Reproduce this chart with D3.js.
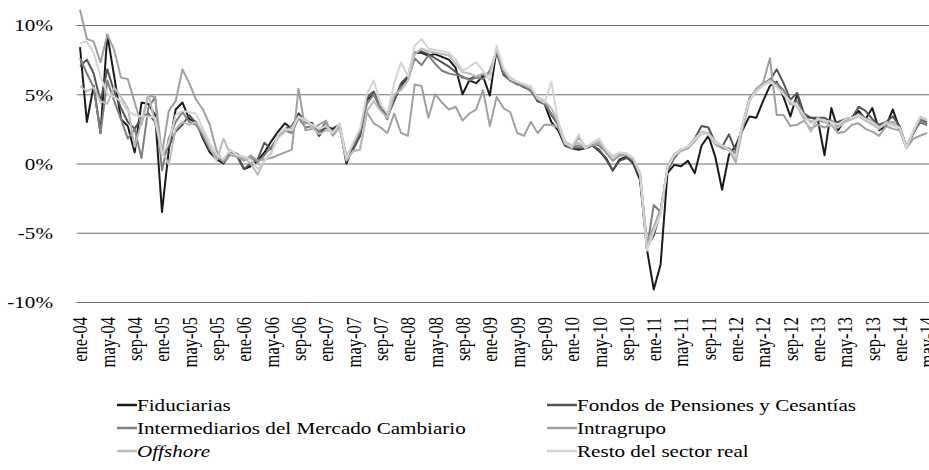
<!DOCTYPE html>
<html>
<head>
<meta charset="utf-8">
<script src="https://cdn.jsdelivr.net/npm/d3@7"></script>
<style>
  body { margin: 0; background: #fff; }
  text { font-family: "Liberation Serif", "Times New Roman", serif; fill: #000; }
</style>
</head>
<body>
<svg id="chart" width="929" height="470"></svg>
<script>
// month labels, ene-04 .. may-14
var monthNames = ["ene","feb","mar","abr","may","jun","jul","ago","sep","oct","nov","dic"];
var categories = [];
for (var yr = 4; yr <= 14; yr++) {
  for (var m = 0; m < 12; m++) {
    if (yr === 14 && m > 4) break;
    categories.push(monthNames[m] + "-" + (yr < 10 ? "0" + yr : yr));
  }
}

var yTicks = [-10, -5, 0, 5, 10];

var fiduciarias = [
  8.4, 3.0, 5.6, 2.2, 9.3, 6.3, 3.2, 2.7, 0.8, 4.4,
  4.3, 3.5, -3.5, 1.0, 3.9, 4.4, 3.2, 3.0, 1.8, 0.8,
  0.3, 0.0, 0.7, 0.6, -0.4, -0.2, 0.2, 0.8, 1.6, 2.3,
  2.9, 2.5, 3.6, 3.0, 2.9, 2.0, 2.7, 2.5, 2.8, 0.0,
  1.2, 2.0, 4.6, 5.0, 4.0, 3.5, 4.6, 5.6, 6.2, 8.0,
  8.0, 7.8, 7.9, 7.7, 7.5, 6.9, 5.0, 6.0, 5.8, 6.3,
  4.9, 8.3, 6.5, 6.0, 5.8, 5.6, 5.3, 4.5, 4.3, 3.0,
  2.4, 1.3, 1.1, 1.0, 1.1, 1.3, 0.9, 0.4, -0.5, 0.3,
  0.5, 0.0, -1.2, -6.2, -9.1, -7.3, -0.7, -0.1, -0.2, 0.2,
  -0.7, 1.3, 2.0, 0.5, -1.9, 0.6, 1.3, 2.4, 3.4, 3.3,
  4.5, 5.6, 5.9, 4.8, 3.4, 5.0, 3.4, 3.3, 3.2, 0.6,
  4.0, 2.4, 3.2, 3.3, 3.8, 3.2, 4.0, 2.4, 2.7, 3.9,
  2.5, 1.2, 2.2, 3.0, 2.8
];
var fondos = [
  7.0, 7.5, 6.5, 4.5, 6.8, 5.2, 4.0, 3.0, 2.5, 3.3,
  3.6, 3.0, 0.6, 1.2, 2.3, 2.8, 3.5, 2.9, 2.0, 1.0,
  0.5, 0.2, 0.8, 0.5, -0.4, 0.0, 0.3, 1.5, 1.0, 2.0,
  2.5, 2.7, 3.5, 3.0, 2.8, 2.3, 2.6, 2.3, 2.7, 0.3,
  1.0, 2.0, 4.8, 5.2, 4.0, 3.4, 4.5, 5.8, 6.3, 8.0,
  8.1, 7.9, 7.6, 7.3, 7.0, 6.6, 6.2, 6.1, 6.3, 6.4,
  6.5, 8.0, 6.4, 6.0, 5.8, 5.5, 5.3, 4.6, 4.5, 3.5,
  2.8, 1.4, 1.1, 1.1, 1.1, 1.3, 1.0, 0.3, -0.5, 0.2,
  0.4, 0.1, -1.0, -6.0, -5.2, -3.5, -0.5, 0.4, 1.0, 1.2,
  1.8, 2.7, 2.6, 1.5, 1.2, 2.1, 0.9, 2.8, 4.7, 5.3,
  5.8, 6.0, 6.8, 5.8, 4.6, 5.1, 3.6, 3.3, 3.3, 3.3,
  3.0, 3.0, 3.2, 3.3, 4.1, 3.8, 3.2, 2.8, 3.0, 3.4,
  2.7, 1.2, 2.3, 3.2, 3.0
];
var intermediarios = [
  7.6, 6.5, 5.5, 2.2, 6.0, 4.5, 3.2, 1.8, 2.5, 0.4,
  4.0, 4.8, -0.5, 1.8, 3.0, 3.7, 3.0, 2.8, 2.0, 1.0,
  0.5, 0.3, 0.9, 0.7, 0.3, 0.4, 0.1, 0.6, 1.2, 1.9,
  2.4, 2.2, 3.3, 2.6, 2.7, 2.3, 3.0, 2.1, 2.8, 0.5,
  1.3, 2.3, 4.3, 5.0, 4.0, 3.2, 4.8, 5.5, 6.0, 7.6,
  7.1, 7.8, 7.2, 6.7, 6.5, 6.4, 6.3, 6.0, 6.2, 6.1,
  6.7, 8.1, 6.6, 6.0, 5.7, 5.6, 5.2, 4.6, 4.3, 3.6,
  2.9, 1.5, 1.2, 1.3, 1.2, 1.4, 1.3, 0.8, 0.2, 0.6,
  0.6, 0.3, -0.8, -6.1, -3.0, -3.5, -0.4, 0.5, 1.0, 1.1,
  1.7, 2.2, 2.2, 1.5, 1.2, 1.1, 0.7, 2.7, 4.6, 5.2,
  5.7, 6.1, 5.8, 5.3, 4.3, 4.5, 3.4, 3.0, 3.1, 3.0,
  3.1, 2.7, 3.1, 3.2, 3.6, 3.3, 3.0, 2.7, 2.9, 3.0,
  2.5, 1.1, 2.2, 3.0, 2.8
];
var intragrupo = [
  11.1, 9.0, 8.8, 7.3, 9.3, 8.2, 6.2, 6.1, 4.4, 2.8,
  4.9, 4.8, 0.7, 3.8, 4.5, 6.8, 5.8, 4.6, 3.9, 2.8,
  0.9, 0.1, 0.6, 0.5, 0.2, 0.6, 0.2, 0.3, 0.4, 0.6,
  0.8, 1.0, 5.4, 2.4, 2.5, 2.8, 3.1, 2.0, 2.6, 0.3,
  0.9, 1.0, 3.7, 2.9, 2.6, 2.2, 3.6, 2.2, 2.0, 5.7,
  5.6, 3.3, 5.0, 4.4, 3.9, 4.1, 3.1, 3.6, 3.9, 5.3,
  2.7, 4.8, 4.0, 3.7, 2.2, 2.0, 3.0, 2.2, 2.8, 2.8,
  2.6, 1.4, 1.1, 1.9, 1.2, 1.3, 1.5, 0.8, 0.2, 0.6,
  0.6, 0.3, -0.8, -5.6, -4.6, -3.3, -0.3, 0.6, 0.9, 1.1,
  1.6, 2.2, 2.1, 1.4, 1.1, 1.0, 0.1, 2.5, 4.5, 5.4,
  5.8, 7.6, 3.5, 3.5, 2.7, 2.8, 3.1, 2.5, 2.8, 2.6,
  2.8, 2.2, 2.3, 2.8, 2.9, 2.5, 2.3, 2.0, 2.7, 2.5,
  2.4, 1.1, 1.8, 2.0, 2.2
];
var offshore = [
  5.6, 5.2, 5.5, 4.5, 4.3, 5.5, 4.8, 4.0, 1.2, 3.0,
  5.0, 3.0, 1.0, -0.1, 2.5, 3.0, 2.8, 3.0, 2.2, 1.2,
  0.2, 1.8, 0.7, 0.6, 0.4, 0.0, -0.8, 0.2, 0.8, 1.9,
  2.3, 2.6, 3.3, 3.2, 2.6, 2.1, 2.4, 2.3, 2.5, 0.2,
  0.9, 1.0, 3.8, 4.5, 3.8, 3.3, 5.0, 5.3, 6.0, 7.9,
  8.3, 8.1, 8.0, 7.9, 7.8, 7.2, 6.6, 6.5, 6.3, 6.5,
  6.4, 8.3, 6.8, 6.2, 5.9, 5.7, 5.4, 4.8, 4.5, 4.0,
  3.0, 1.6, 1.3, 1.5, 1.1, 1.5, 1.6, 1.0, 0.5, 0.8,
  0.7, 0.4, -0.7, -6.0, -4.8, -3.6, -0.2, 0.7, 1.0, 1.2,
  1.8, 2.3, 2.2, 1.6, 1.3, 1.0, 0.3, 2.8, 4.6, 5.3,
  5.7, 6.0, 5.6, 5.0, 4.4, 4.1, 3.2, 2.3, 3.3, 3.0,
  2.7, 2.6, 3.0, 3.2, 3.4, 3.1, 2.8, 2.5, 3.0, 2.9,
  2.6, 1.2, 2.3, 3.3, 3.1
];
var resto = [
  8.7, 8.8, 8.0, 6.3, 5.0, 4.8, 4.5, 3.8, 3.5, 3.4,
  3.4, 3.3, 0.6, 1.5, 3.5, 3.8, 3.7, 3.6, 2.5, 1.5,
  0.6, 0.3, 1.0, 0.6, 0.5, 0.3, -0.4, 0.2, 0.7, 2.1,
  2.5, 2.4, 3.4, 3.1, 2.8, 2.5, 2.7, 2.2, 2.9, 0.4,
  1.5, 2.5, 5.0, 6.0, 4.3, 3.6, 5.8, 7.3, 6.3, 8.5,
  9.0, 8.3, 8.2, 8.1, 8.0, 7.5, 6.7, 7.0, 7.3, 6.7,
  6.0, 8.5, 6.9, 6.1, 5.9, 5.7, 5.6, 4.7, 4.4, 5.9,
  3.0, 1.5, 1.2, 2.1, 1.1, 1.5, 1.8, 1.0, 0.4, 0.8,
  0.7, 0.4, -0.8, -6.3, -4.9, -3.7, -0.3, 0.6, 1.0, 1.2,
  1.7, 2.2, 2.1, 1.5, 1.3, 1.0, 0.5, 2.9, 4.6, 5.2,
  5.6, 5.9, 5.5, 5.0, 4.5, 4.2, 3.5, 2.9, 3.2, 3.1,
  3.0, 2.8, 3.2, 3.3, 3.5, 3.2, 3.0, 2.6, 2.9, 2.7,
  2.6, 1.1, 2.4, 3.4, 3.2
];

var seriesNames = ["Fiduciarias", "Fondos de Pensiones y Cesantías",
  "Intermediarios del Mercado Cambiario", "Intragrupo", "Offshore", "Resto del sector real"];
var seriesColors = ["#1a1a1a", "#555555", "#7f7f7f", "#a0a0a0", "#bcbcbc", "#d4d4d4"];
var seriesData = [fiduciarias, fondos, intermediarios, intragrupo, offshore, resto];

var svg = d3.select("#chart");
var stretch = 1.28; // text in the picture is wider than it is tall

var x = d3.scalePoint().domain(categories).range([76.6, 930.4]).padding(0.5);
var y = d3.scaleLinear().domain([-10, 10]).range([302, 25]);

// grid
svg.append("g")
  .attr("transform", "translate(76.6,0)")
  .call(d3.axisLeft(y).tickValues(yTicks).tickSize(-860).tickFormat(""))
  .call(function(g) {
    g.select(".domain").remove();
    g.selectAll("line").attr("stroke", "#6e6e6e").attr("stroke-width", 1.1);
  });

// y labels
svg.append("g")
  .attr("transform", "translate(53,0)")
  .call(d3.axisLeft(y).tickValues(yTicks).tickSize(0).tickFormat(function(d) { return d + "%"; }))
  .call(function(g) {
    g.select(".domain").remove();
    g.selectAll("text")
      .attr("x", null).attr("dy", null)
      .attr("font-size", 16.5)
      .attr("text-anchor", "end")
      .attr("transform", "scale(" + stretch + ",1)")
      .attr("y", "0.35em")
      .style("font-family", "'Liberation Serif', serif")
      .attr("fill", "#000");
  });

// x labels
svg.append("g")
  .attr("transform", "translate(0,317)")
  .call(d3.axisBottom(x).tickValues(categories.filter(function(d, i) { return i % 4 === 0; })).tickSize(0))
  .call(function(g) {
    g.select(".domain").remove();
    g.selectAll("text")
      .attr("y", null).attr("dy", "0.35em")
      .attr("font-size", 16.5)
      .attr("text-anchor", "end")
      .attr("transform", "scale(" + stretch + ",1) rotate(-90)")
      .style("font-family", "'Liberation Serif', serif")
      .attr("fill", "#000");
    g.selectAll(".tick").attr("transform", function(d) { return "translate(" + x(d) + ",0)"; });
  });

// lines
var line = d3.line()
  .x(function(d, i) { return x(categories[i]); })
  .y(function(d) { return y(d); });

seriesData.forEach(function(vals, k) {
  svg.append("path")
    .datum(vals)
    .attr("fill", "none")
    .attr("stroke", seriesColors[k])
    .attr("stroke-width", 2)
    .attr("stroke-linejoin", "round")
    .attr("d", line);
});

// legend
var legendPos = [[117, 405], [547, 405], [117, 428], [547, 428], [117, 451], [547, 451]];
seriesNames.forEach(function(name, k) {
  var p = legendPos[k];
  var lineLen = p[0] < 300 ? 20 : 30;
  svg.append("line")
    .attr("x1", p[0]).attr("x2", p[0] + lineLen)
    .attr("y1", p[1]).attr("y2", p[1])
    .attr("stroke", seriesColors[k]).attr("stroke-width", 2.5);
  svg.append("text")
    .attr("transform", "translate(" + (p[0] + lineLen) + "," + p[1] + ") scale(" + stretch + ",1)")
    .attr("dy", "0.35em")
    .attr("font-size", 16.5)
    .style("font-style", name === "Offshore" ? "italic" : "normal")
    .text(name);
});
</script>
</body>
</html>
